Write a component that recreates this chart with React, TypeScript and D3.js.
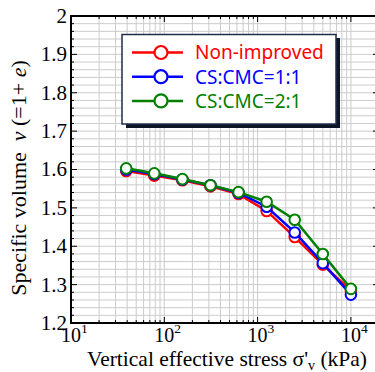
import React from "react";
import * as d3 from "d3";

const stress = [39.0625, 78.125, 156.25, 312.5, 625, 1250, 2500, 5000, 10000];
const nonImproved = [1.596, 1.584, 1.572, 1.556, 1.536, 1.492, 1.424, 1.352, 1.284];
const csCmc11 = [1.6, 1.588, 1.574, 1.559, 1.539, 1.503, 1.436, 1.356, 1.274];
const csCmc21 = [1.603, 1.59, 1.575, 1.559, 1.541, 1.516, 1.469, 1.38, 1.289];
const seriesNames = ["Non-improved", "CS:CMC=1:1", "CS:CMC=2:1"];
const seriesColors = ["#ff0000", "#0000ff", "#008000"];
const yTickLabels = ["1.2", "1.3", "1.4", "1.5", "1.6", "1.7", "1.8", "1.9", "2"];
const xDecades = [1, 2, 3, 4];

const W = 375, H = 372;
const L = 71, T = 16, B = 323;

export default function App() {
  const x = d3.scaleLog().domain([10, 20000]).range([L, L + 93.3 * Math.log10(2000)]);
  const y = d3.scaleLinear().domain([1.2, 2]).range([B, T]);
  const R = x.range()[1];
  const series = [nonImproved, csCmc11, csCmc21];

  const xMinor: number[] = [];
  for (let d = 1; d <= 4; d++) for (let k = 1; k <= 9; k++) {
    const v = k * Math.pow(10, d);
    if (v <= 20000) xMinor.push(v);
  }
  const yMinor: number[] = d3.range(0, 41).map((i) => 1.2 + i * 0.02);

  const line = d3.line<[number, number]>().x((d) => x(d[0])).y((d) => y(d[1]));

  const serif = "'Liberation Serif', 'Times New Roman', serif";
  const sans = "'Noto Sans', 'DejaVu Sans', sans-serif";

  return (
    <div style={{ position: "absolute", left: 0, top: 0 }}>
      <svg width={W} height={H} style={{ display: "block", background: "#fff" }}>
        <defs>
          <clipPath id="plot">
            <rect x={L} y={T} width={R - L} height={B - T} />
          </clipPath>
        </defs>
        {/* grid */}
        <g stroke="#cccccc" strokeWidth={1}>
          {xMinor.map((v, i) => (
            <line key={"gx" + i} x1={x(v)} x2={x(v)} y1={T} y2={B} />
          ))}
          {yMinor.map((v, i) => (
            <line key={"gy" + i} x1={L} x2={R} y1={y(v)} y2={y(v)} />
          ))}
        </g>
        {/* ticks */}
        <g stroke="#000" strokeWidth={1}>
          {xMinor.map((v, i) => {
            const major = Math.abs(Math.log10(v) - Math.round(Math.log10(v))) < 1e-9;
            const len = major ? 6 : 3;
            return (
              <g key={"tx" + i}>
                <line x1={x(v)} x2={x(v)} y1={B} y2={B - len} />
                <line x1={x(v)} x2={x(v)} y1={T} y2={T + len} />
              </g>
            );
          })}
          {yMinor.map((v, i) => {
            const major = i % 5 === 0;
            const len = major ? 6 : 3;
            return (
              <g key={"ty" + i}>
                <line x1={L} x2={L + len} y1={y(v)} y2={y(v)} />
                <line x1={R} x2={R - len} y1={y(v)} y2={y(v)} />
              </g>
            );
          })}
        </g>
        {/* frame */}
        <rect x={L} y={T} width={R - L} height={B - T} fill="none" stroke="#000" strokeWidth={2} />
        {/* data */}
        <g clipPath="url(#plot)">
          {series.map((vals, si) => {
            const pts: [number, number][] = stress.map((s, i) => [s, vals[i]]);
            return (
              <g key={"s" + si}>
                <path d={line(pts) || ""} fill="none" stroke={seriesColors[si]} strokeWidth={2.5} />
                {pts.map((p, i) => (
                  <circle key={i} cx={x(p[0])} cy={y(p[1])} r={5.3} fill="#fff" stroke={seriesColors[si]} strokeWidth={2} />
                ))}
              </g>
            );
          })}
        </g>
        {/* y tick labels */}
        {yTickLabels.map((t) => (
          <text key={t} x={L - 4} y={y(+t)} dy="0.33em" textAnchor="end" fontFamily={serif} fontSize={21} fill="#000">
            {t}
          </text>
        ))}
        {/* x tick labels */}
        {xDecades.map((d) => (
          <text key={d} x={x(Math.pow(10, d)) - 10} y={342} textAnchor="start" fontFamily={serif} fontSize={20} fill="#000">
            10
            <tspan dy={-9} fontSize={13.5}>{d}</tspan>
          </text>
        ))}
        {/* x axis title */}
        <text x={227} y={366} textAnchor="middle" fontFamily={serif} fontSize={21.5} fill="#000">
          Vertical effective stress σ'
          <tspan dy={4} fontSize={14}>v</tspan>
          <tspan dy={-4}> (kPa)</tspan>
        </text>
        {/* y axis title */}
        <text transform="translate(26,178) rotate(-90)" textAnchor="middle" fontFamily={serif} fontSize={22} fill="#000">
          Specific volume{"\u2002"}
          <tspan fontStyle="italic">v</tspan>
          <tspan> (=1+ </tspan>
          <tspan fontStyle="italic">e</tspan>
          <tspan>)</tspan>
        </text>
        {/* legend */}
        <rect x={126} y={38} width={214} height={90} fill="#0d1626" />
        <rect x={122} y={34.5} width={214} height={89.5} fill="#fff" stroke="#1f2d4d" strokeWidth={1.5} />
        {seriesNames.map((n, i) => {
          const ly = 52.5 + i * 24.2;
          return (
            <g key={n}>
              <line x1={132} x2={183} y1={ly} y2={ly} stroke={seriesColors[i]} strokeWidth={2.5} />
              <circle cx={161} cy={ly} r={6.5} fill="#fff" stroke={seriesColors[i]} strokeWidth={2.2} />
              <text x={195} y={ly} dy="0.36em" fontFamily={sans} fontSize={19} fill={seriesColors[i]}>
                {n}
              </text>
            </g>
          );
        })}
      </svg>
    </div>
  );
}
